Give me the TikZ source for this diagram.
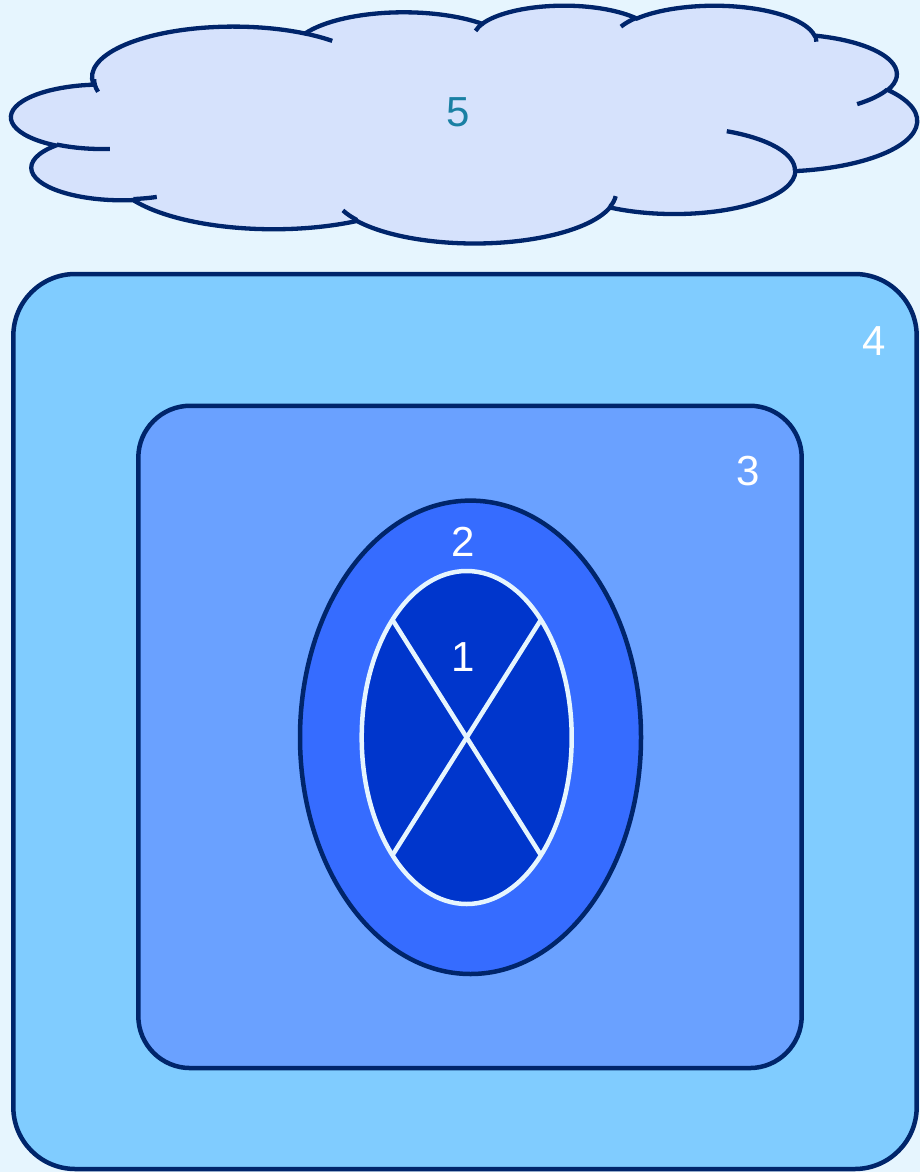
\documentclass[tikz,border=0pt]{standalone}
\usepackage{fontspec}
\setmainfont{Liberation Sans}
\usetikzlibrary{shapes.geometric}
\definecolor{bgc}{HTML}{E6F5FE}
\definecolor{navy}{HTML}{00256B}
\definecolor{cloudfill}{HTML}{D6E2FC}
\definecolor{cloudtext}{HTML}{1A80A3}
\definecolor{boxfour}{HTML}{80CCFF}
\definecolor{boxthree}{HTML}{6AA1FF}
\definecolor{ovaltwo}{HTML}{366CFF}
\definecolor{ovalone}{HTML}{0036CC}
\newcommand\cloudang[5]{%
  \pgfmathsetmacro\cla{atan2((#2)*sin(#4),(#3)*cos(#4))}%
  \pgfmathsetmacro\clb{atan2((#2)*sin((#4)+(#5)),(#3)*cos((#4)+(#5)))}%
  \pgfmathsetmacro\clb{\clb+360*(\clb<\cla)}%
  \expandafter\xdef\csname #1s\endcsname{\cla}%
  \expandafter\xdef\csname #1e\endcsname{\clb}%
}
\tikzset{
  outline/.style={draw=navy, line width=4.5pt},
  lbl/.style={text=white, inner sep=0pt, font=\fontsize{42}{42}\selectfont},
  cloudline/.style={draw=navy, line width=4.3pt},
  cross/.style={draw=bgc, line width=4.5pt}
}
\begin{document}
\begin{tikzpicture}[x=1pt, y=-1pt]
\useasboundingbox (0,0) rectangle (920,1172);
\fill[bgc] (0,0) rectangle (920,1172);
% cloud geometry (outer lobes)
\cloudang{clA}{67.53}{91.90}{-190.4875}{123.7805}
\cloudang{clB}{53.33}{72.67}{-144.1024}{89.9452}
\cloudang{clC}{43.65}{59.45}{-145.8079}{99.7230}
\cloudang{clD}{48.57}{65.95}{-130.9861}{117.2417}
\cloudang{clE}{53.33}{72.73}{-78.7089}{109.0269}
\cloudang{clF}{67.75}{92.20}{-46.2673}{130.2690}
\cloudang{clG}{57.85}{78.67}{0.6250}{114.0333}
\cloudang{clH}{67.52}{92.15}{22.4516}{115.1726}
\cloudang{clI}{77.20}{105.43}{66.2426}{75.7110}
\cloudang{clJ}{43.60}{59.18}{-274.9421}{146.7356}
\cloudang{clK}{43.45}{59.45}{-246.8285}{152.5189}
% inner arcs
\cloudang{ciA}{43.45}{59.45}{86.7420}{26.4295}
\cloudang{ciB}{43.60}{59.18}{73.6105}{11.4475}
\cloudang{ciC}{67.52}{92.15}{137.6242}{14.0811}
\cloudang{ciD}{67.52}{92.15}{6.4533}{15.9984}
\cloudang{ciE}{57.85}{78.67}{-70.2924}{70.9174}
\cloudang{ciF}{53.33}{72.73}{30.3180}{27.7515}
\cloudang{ciG}{48.57}{65.95}{-13.7443}{14.8589}
\cloudang{ciH}{48.57}{65.95}{-149.1815}{18.1954}
\cloudang{ciI}{43.65}{59.45}{-163.4943}{17.6864}
\cloudang{ciJ}{67.53}{91.90}{-66.7070}{12.3194}
\cloudang{ciK}{67.53}{91.90}{162.0353}{19.4303}
\begin{scope}[shift={(11.6,4.9)}, xscale=2.0955, yscale=0.5503]
\filldraw[fill=cloudfill, cloudline]
  (39,143.70)
  arc[start angle=\clAs, end angle=\clAe, x radius=67.53, y radius=91.90]
  arc[start angle=\clBs, end angle=\clBe, x radius=53.33, y radius=72.67]
  arc[start angle=\clCs, end angle=\clCe, x radius=43.65, y radius=59.45]
  arc[start angle=\clDs, end angle=\clDe, x radius=48.57, y radius=65.95]
  arc[start angle=\clEs, end angle=\clEe, x radius=53.33, y radius=72.73]
  arc[start angle=\clFs, end angle=\clFe, x radius=67.75, y radius=92.20]
  arc[start angle=\clGs, end angle=\clGe, x radius=57.85, y radius=78.67]
  arc[start angle=\clHs, end angle=\clHe, x radius=67.52, y radius=92.15]
  arc[start angle=\clIs, end angle=\clIe, x radius=77.20, y radius=105.43]
  arc[start angle=\clJs, end angle=\clJe, x radius=43.60, y radius=59.18]
  arc[start angle=\clKs, end angle=\clKe, x radius=43.45, y radius=59.45]
  -- cycle;
\draw[cloudline]
  (46.93,261.77) arc[start angle=\ciAs, end angle=\ciAe, x radius=43.45, y radius=59.45]
  (69.28,348.99) arc[start angle=\ciBs, end angle=\ciBe, x radius=43.60, y radius=59.18]
  (164.78,390.90) arc[start angle=\ciCs, end angle=\ciCe, x radius=67.52, y radius=92.15]
  (288.27,347.51) arc[start angle=\ciDs, end angle=\ciDe, x radius=67.52, y radius=92.15]
  (341.29,229.54) arc[start angle=\ciEs, end angle=\ciEe, x radius=57.85, y radius=78.67]
  (417.98,153.54) arc[start angle=\ciFs, end angle=\ciFe, x radius=53.33, y radius=72.73]
  (383.24,54.26) arc[start angle=\ciGs, end angle=\ciGe, x radius=48.57, y radius=65.95]
  (290.78,39.52) arc[start angle=\ciHs, end angle=\ciHe, x radius=48.57, y radius=65.95]
  (221.41,47.20) arc[start angle=\ciIs, end angle=\ciIe, x radius=43.65, y radius=59.45]
  (140.00,51.92) arc[start angle=\ciJs, end angle=\ciJe, x radius=67.53, y radius=91.90]
  (41.27,157.89) arc[start angle=\ciKs, end angle=\ciKe, x radius=67.53, y radius=91.90];
\end{scope}
\node[lbl, text=cloudtext] (t5) at (458,112.5) {5};
% nested shapes
\node[outline, fill=boxfour, rounded corners=62pt, minimum width=903.4pt, minimum height=895pt, inner sep=0pt, outer sep=0pt] (b4) at (465,721.5) {};
\node[outline, fill=boxthree, rounded corners=52pt, minimum width=663.4pt, minimum height=662.3pt, inner sep=0pt, outer sep=0pt] (b3) at (470,736.9) {};
\node[outline, ellipse, fill=ovaltwo, minimum width=341pt, minimum height=473.4pt, inner sep=0pt, outer sep=0pt] (e2) at (470.5,737.3) {};
\node[cross, ellipse, fill=ovalone, minimum width=210pt, minimum height=333pt, inner sep=0pt, outer sep=0pt] (e1) at (466.7,737.5) {};
\draw[cross] (e1.north west) -- (e1.south east);
\draw[cross] (e1.north east) -- (e1.south west);
\node[lbl] (t4) at (873.8,340.8) {4};
\node[lbl] (t3) at (748,471) {3};
\node[lbl] (t2) at (463,541.7) {2};
\node[lbl] (t1) at (462.7,656.7) {1};
\end{tikzpicture}
\end{document}
